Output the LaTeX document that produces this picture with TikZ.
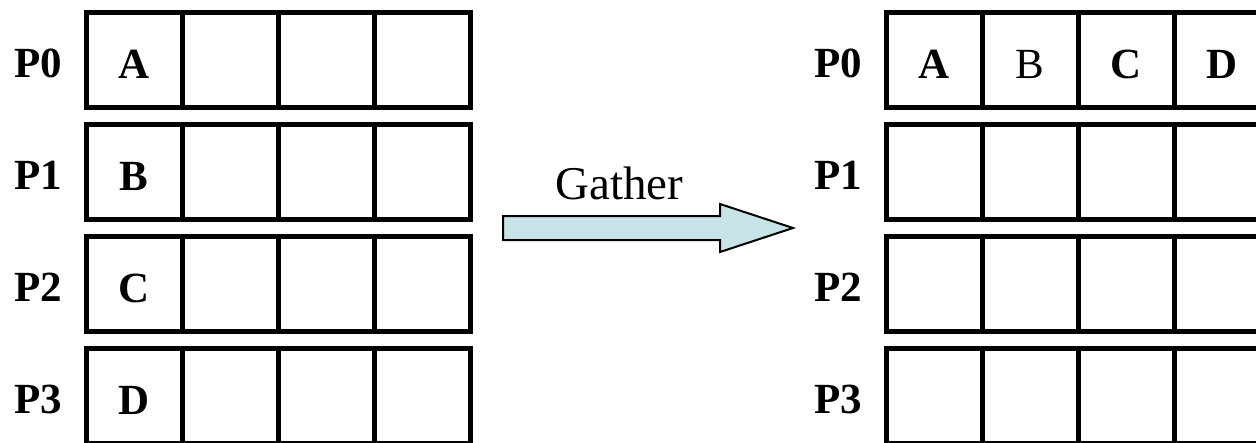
\documentclass[tikz,border=0pt]{standalone}
\usepackage{fontspec}
\setmainfont{Liberation Serif}
\usetikzlibrary{positioning,calc}
\definecolor{ArrowCyan}{RGB}{198,228,232}

\begin{document}
\begin{tikzpicture}[
	x=1pt, y=1pt,
	% Style cho ô nhớ
	cellnode/.style={
		draw=black,
		line width=5pt,
		minimum width=96pt,
		minimum height=95pt,
		inner sep=0pt,
		outer sep=0pt
	},
	% Style cho chữ (đậm)
	textnode/.style={
		font=\fontsize{43}{48}\selectfont\bfseries,
		inner sep=0pt
	},
	% Chữ thường
	plainnode/.style={
		textnode,
		font=\fontsize{43}{48}\selectfont
	}
]

% --- KHUNG ---
\useasboundingbox (0,0) rectangle (1256,-442);
\clip (0,0) rectangle (1256,-442);

% --- CÁC Ô ---
\foreach \r in {0,...,3} {
	\node[textnode] (LP\r) at (38, {-63.5-112*\r}) {P\r};
	\node[textnode] (RP\r) at (838, {-63.5-112*\r}) {P\r};
	\foreach \c in {0,...,3} {
		\node[cellnode] (L\r\c) at ({134+96*\c}, {-60-112*\r}) {};
		\node[cellnode] (R\r\c) at ({934+96*\c}, {-60-112*\r}) {};
	}
}

% Dữ liệu bên trái
\foreach \r/\t in {0/A,1/B,2/C,3/D}
	\node[textnode] (LD\r) at ($(L\r0)+(0,-4)$) {\t};

% Dữ liệu bên phải (hàng P0)
\node[textnode] (RDA) at ($(R00)+(0,-4)$) {A};
\node[plainnode] (RDB) at ($(R01)+(0,-4)$) {B};
\node[textnode] (RDC) at ($(R02)+(0,-4)$) {C};
\node[textnode] (RDD) at ($(R03)+(0,-4)$) {D};

% --- MŨI TÊN ---
\draw[line width=2pt, fill=ArrowCyan, line join=miter]
	(503,-216) -- (720,-216) -- (720,-204) -- (793,-228)
	-- (720,-252) -- (720,-240) -- (503,-240) -- cycle;
\node[font=\fontsize{47}{52}\selectfont, anchor=base, inner sep=0pt] (gather) at (619.5,-199) {Gather};

\end{tikzpicture}
\end{document}
